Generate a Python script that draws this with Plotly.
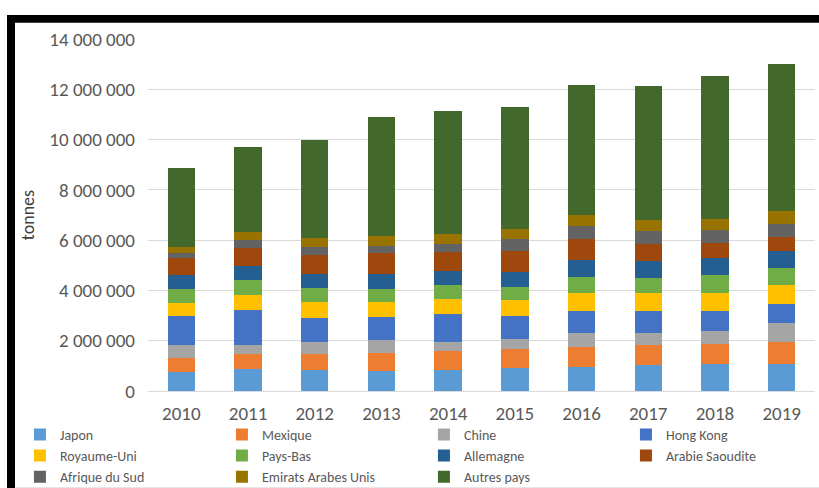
import plotly.graph_objects as go

# Exports by destination, in tonnes
years = ["2010", "2011", "2012", "2013", "2014", "2015", "2016", "2017", "2018", "2019"]

japon = [770000, 870000, 850000, 810000, 850000, 910000, 950000, 1030000, 1070000, 1070000]
mexique = [550000, 590000, 620000, 700000, 730000, 770000, 810000, 800000, 810000, 890000]
chine = [520000, 370000, 480000, 530000, 380000, 400000, 550000, 460000, 490000, 760000]
hong_kong = [1130000, 1400000, 950000, 900000, 1110000, 890000, 870000, 890000, 810000, 730000]
royaume_uni = [540000, 570000, 630000, 610000, 600000, 660000, 730000, 700000, 730000, 760000]
pays_bas = [560000, 600000, 580000, 520000, 540000, 510000, 630000, 630000, 700000, 690000]
allemagne = [540000, 560000, 540000, 580000, 550000, 600000, 660000, 660000, 670000, 670000]
arabie_saoudite = [670000, 730000, 770000, 850000, 750000, 830000, 830000, 690000, 620000, 570000]
afrique_du_sud = [220000, 310000, 310000, 270000, 350000, 460000, 520000, 500000, 500000, 500000]
emirats = [240000, 320000, 370000, 380000, 370000, 420000, 440000, 440000, 430000, 520000]
autres_pays = [3110000, 3390000, 3880000, 4760000, 4900000, 4850000, 5170000, 5320000, 5690000, 5830000]

series = [
    ("Japon", japon, "#5B9BD5"),
    ("Mexique", mexique, "#ED7D31"),
    ("Chine", chine, "#A5A5A5"),
    ("Hong Kong", hong_kong, "#4472C4"),
    ("Royaume-Uni", royaume_uni, "#FFC000"),
    ("Pays-Bas", pays_bas, "#70AD47"),
    ("Allemagne", allemagne, "#255E91"),
    ("Arabie Saoudite", arabie_saoudite, "#9E480E"),
    ("Afrique du Sud", afrique_du_sud, "#636363"),
    ("Emirats Arabes Unis", emirats, "#997300"),
    ("Autres pays", autres_pays, "#43682B"),
]

FONT = "Carlito, Lato, sans-serif"
TEXT = "#595959"

fig = go.Figure()
for name, values, color in series:
    fig.add_trace(go.Bar(
        x=years, y=values, name=name,
        marker=dict(color=color, line=dict(width=0)),
    ))

# frame around the chart
frame = dict(type="rect", xref="paper", yref="paper", fillcolor="black",
             line=dict(width=0), layer="above")
fig.add_shape(x0=-0.2114, x1=1.01, y0=1.046, y1=1.068, **frame)
fig.add_shape(x0=-0.2114, x1=-0.1994, y0=-0.28, y1=1.068, **frame)
fig.add_shape(type="line", xref="paper", yref="paper", x0=-0.1994, x1=1.01,
              y0=-0.2742, y1=-0.2742, line=dict(color="#E6E6E6", width=1))

fig.update_layout(
    width=819, height=488,
    barmode="stack", bargap=0.59,
    margin=dict(l=148, r=4, t=39, b=97, autoexpand=False),
    paper_bgcolor="white", plot_bgcolor="white",
    separators=", ",
    font=dict(family=FONT, color=TEXT, size=17),
    showlegend=True,
    legend=dict(
        orientation="h", traceorder="normal",
        xref="paper", yref="paper",
        x=-0.192, y=-0.079, xanchor="left", yanchor="top",
        entrywidth=157, entrywidthmode="pixels",
        bgcolor="rgba(0,0,0,0)", borderwidth=0,
        font=dict(family=FONT, size=14, color=TEXT),
        itemwidth=30, tracegroupgap=0,
    ),
)
fig.update_xaxes(
    type="category", showgrid=False, showline=True, linecolor="#D9D9D9",
    ticks="", tickfont=dict(size=19, color=TEXT), ticklabelstandoff=5,
)
fig.update_yaxes(
    range=[0, 14000000], dtick=2000000, tickformat=",.0f",
    showgrid=True, gridcolor="#D9D9D9", gridwidth=1, zeroline=False,
    showline=False, ticks="", tickfont=dict(size=19, color=TEXT),
    ticklabelstandoff=12,
    title=dict(text="tonnes", font=dict(size=18, color="#404040"), standoff=10),
)

fig.write_html("out.html")
